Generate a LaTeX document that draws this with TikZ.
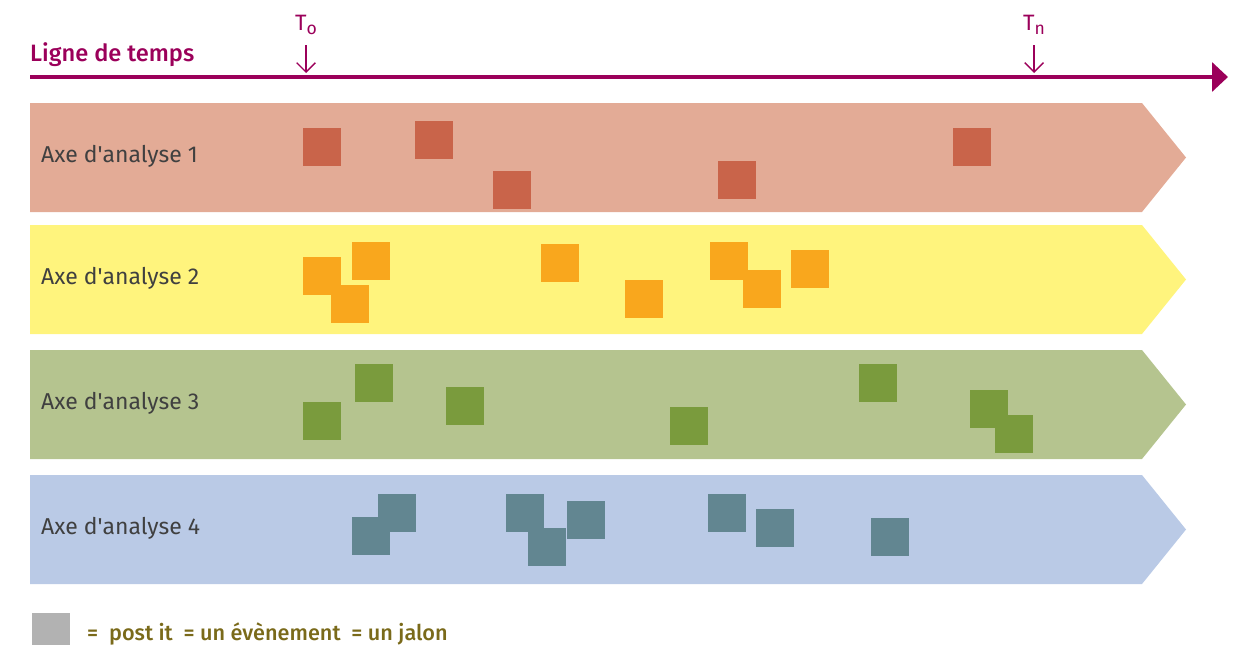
\documentclass[tikz,border=0pt]{standalone}
\usepackage{fontspec}
\setmainfont{Fira Sans}[BoldFont={Fira Sans Medium}]
\usepackage{tikz}
\usetikzlibrary{arrows.meta}
\definecolor{ligne}{RGB}{155,0,90}
\definecolor{axeA}{RGB}{227,171,150}
\definecolor{axeB}{RGB}{255,244,125}
\definecolor{axeC}{RGB}{181,196,143}
\definecolor{axeD}{RGB}{186,202,230}
\definecolor{postA}{RGB}{201,100,74}
\definecolor{postB}{RGB}{249,167,29}
\definecolor{postC}{RGB}{122,155,61}
\definecolor{postD}{RGB}{98,134,145}
\definecolor{legende}{RGB}{122,106,26}
\tikzstyle{p}=[rectangle,inner sep=0,minimum size=1.14cm]
\tikzstyle{axe}=[anchor=base west,inner sep=0,text=black!75,font=\fontsize{19.6}{22}\selectfont]
\tikzstyle{t}=[anchor=base,text=ligne,font=\fontsize{19}{22}\selectfont]
\tikzstyle{fl}=[ligne,line width=1.2pt,-{Straight Barb[length=8pt,width=16pt]}]
\newcommand{\bande}[2]{\fill[#1] (30,#2-54.5) -- (1142,#2-54.5) -- (1186,#2) -- (1142,#2+54.5) -- (30,#2+54.5) -- cycle;}

\begin{document}
\begin{tikzpicture}[x=0.03cm,y=-0.03cm]
    \useasboundingbox (0,0) rectangle (1237,644);

                        % ligne de temps
                        \coordinate (ls) at (30,77);
                        \coordinate (le) at (1228,77);
                        \draw[ligne,line width=3.4pt,-{Triangle[length=13.6pt,width=24.5pt]}] (ls) -- (le);
                        \node[anchor=base west,inner sep=0,text=ligne,font=\fontsize{20.2}{22}\selectfont\bfseries] (titre) at (30,61) {Ligne de temps};

                        \node[t] (to) at (306,30) {T\raisebox{-0.35ex}{\fontsize{15}{15}\selectfont o}};
                        \node[t] (tn) at (1034,30) {T\raisebox{-0.35ex}{\fontsize{15}{15}\selectfont n}};
                        \coordinate (so) at (306,45);
                        \coordinate (sn) at (1034,45);
                        \coordinate (ao) at (306,73);
                        \coordinate (an) at (1034,73);
                        \draw[fl] (so) -- (ao);
                        \draw[fl] (sn) -- (an);

                        % bandes
                        \bande{axeA}{157.5}
                        \bande{axeB}{279.5}
                        \bande{axeC}{404.5}
                        \bande{axeD}{529.5}

                        \node[axe] (x1) at (41,162) {Axe d\textquotesingle analyse 1};
                        \node[axe] (x2) at (41,284) {Axe d\textquotesingle analyse 2};
                        \node[axe] (x3) at (41,409) {Axe d\textquotesingle analyse 3};
                        \node[axe] (x4) at (41,534) {Axe d\textquotesingle analyse 4};

                        % post it
                        \node[p,fill=postA] (a1) at (322,146.5) {};
                        \node[p,fill=postA] (a2) at (434,139.5) {};
                        \node[p,fill=postA] (a3) at (512,189.5) {};
                        \node[p,fill=postA] (a4) at (737,179.5) {};
                        \node[p,fill=postA] (a5) at (972,146.5) {};

                        \node[p,fill=postB] (b1) at (322,275.5) {};
                        \node[p,fill=postB] (b2) at (371,260.5) {};
                        \node[p,fill=postB] (b3) at (350,303.5) {};
                        \node[p,fill=postB] (b4) at (560,263) {};
                        \node[p,fill=postB] (b5) at (644,299) {};
                        \node[p,fill=postB] (b6) at (729,261) {};
                        \node[p,fill=postB] (b7) at (762,289) {};
                        \node[p,fill=postB] (b8) at (810,269) {};

                        \node[p,fill=postC] (c1) at (322,421) {};
                        \node[p,fill=postC] (c2) at (374,383) {};
                        \node[p,fill=postC] (c3) at (465,406) {};
                        \node[p,fill=postC] (c4) at (689,426) {};
                        \node[p,fill=postC] (c5) at (878,383) {};
                        \node[p,fill=postC] (c6) at (989,409) {};
                        \node[p,fill=postC] (c7) at (1014,434) {};

                        \node[p,fill=postD] (d1) at (397,513) {};
                        \node[p,fill=postD] (d2) at (371,536) {};
                        \node[p,fill=postD] (d3) at (525,513) {};
                        \node[p,fill=postD] (d4) at (586,520) {};
                        \node[p,fill=postD] (d5) at (547,547) {};
                        \node[p,fill=postD] (d6) at (727,513) {};
                        \node[p,fill=postD] (d7) at (775,528) {};
                        \node[p,fill=postD] (d8) at (890,537) {};

                        % legende
                        \node[p,fill=black!30] (leg) at (51,632) {};
                        \node[anchor=base west,inner sep=0,text=legende,font=\fontsize{18.5}{20}\selectfont\bfseries] (txt) at (87,640) {=\ \ post it\ \ = un évènement\ \ = un jalon};

    \end{tikzpicture}
\end{document}
